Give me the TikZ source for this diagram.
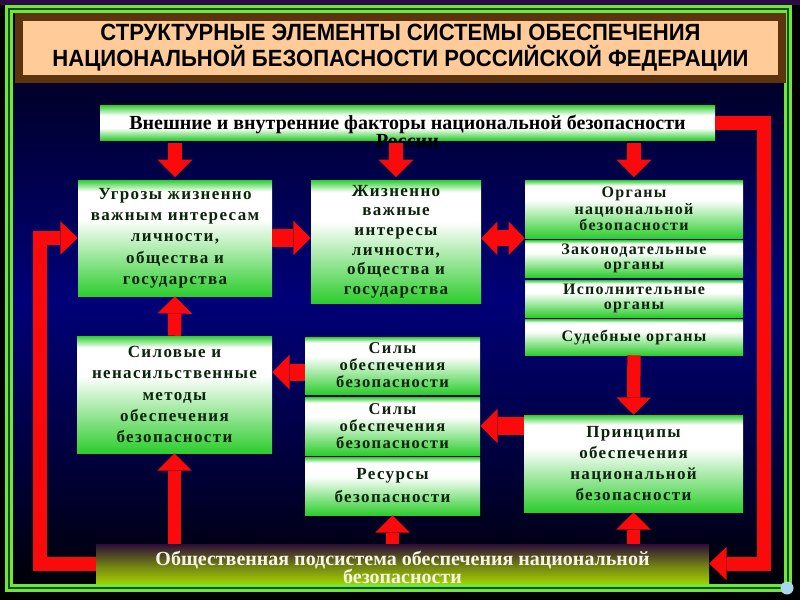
\documentclass[tikz,border=0pt]{standalone}
\usepackage{fontspec}
\usepackage{graphicx}
\setmainfont{Liberation Serif}
\newfontfamily\bx[LetterSpace=8]{Liberation Serif}
\newfontfamily\ttlfont{Liberation Sans}
\usetikzlibrary{arrows.meta,calc}
\definecolor{gG}{RGB}{45,205,45}
\definecolor{txtG}{RGB}{12,36,12}
\definecolor{arrRed}{RGB}{250,10,10}
\definecolor{peachT}{RGB}{255,204,153}
\definecolor{brownT}{RGB}{92,52,14}
\definecolor{frL}{RGB}{110,230,60}
\definecolor{frD}{RGB}{25,80,15}
\definecolor{bgTop}{RGB}{0,0,14}
\definecolor{bgUp}{RGB}{0,0,70}
\definecolor{bgMid}{RGB}{0,0,120}
\definecolor{bgLow}{RGB}{0,0,60}
\definecolor{bgBot}{RGB}{0,0,6}
\definecolor{purpT}{RGB}{45,10,70}
\definecolor{ybot}{RGB}{160,205,0}
\definecolor{ymid}{RGB}{115,130,20}
\definecolor{ytop}{RGB}{45,12,55}
\definecolor{iconC}{RGB}{170,215,235}
\definecolor{wTxt}{RGB}{245,245,230}
\pgfdeclareverticalshading{gboxsh}{100bp}{color(0bp)=(gG); color(25bp)=(gG); color(58bp)=(white); color(70bp)=(white); color(75bp)=(gG); color(100bp)=(gG)}
\pgfdeclareverticalshading{gbarsh}{100bp}{color(0bp)=(gG); color(25bp)=(gG); color(42bp)=(white); color(60bp)=(white); color(75bp)=(gG); color(100bp)=(gG)}
\pgfdeclareverticalshading{ybarsh}{100bp}{color(0bp)=(ybot); color(25bp)=(ybot); color(47bp)=(ymid); color(75bp)=(ytop); color(100bp)=(ytop)}
\pgfdeclareverticalshading{bgsh}{100bp}{color(0bp)=(bgBot); color(25bp)=(bgBot); color(36bp)=(bgLow); color(50bp)=(bgMid); color(62bp)=(bgUp); color(75bp)=(bgTop); color(100bp)=(bgTop)}
\tikzset{
  gb/.style={shade, shading=gboxsh, inner sep=0pt, align=center, text=txtG,
    font=\bx\bfseries\fontsize{12.75}{16}\selectfont},
  gbar/.style={shade, shading=gbarsh, inner sep=0pt},
  ybar/.style={shade, shading=ybarsh, inner sep=0pt},
  bartxt/.style={align=center, inner sep=0pt, font=\bfseries\fontsize{15}{13.5}\selectfont},
  ra/.style={draw=arrRed, line width=10pt,
    -{Triangle[width=26pt,length=13pt,line width=0pt]}},
  rda/.style={draw=arrRed, line width=12pt,
    {Triangle[width=25pt,length=12pt,line width=0pt]}-{Triangle[width=25pt,length=12pt,line width=0pt]}},
  rloop/.style={draw=arrRed, line width=10.5pt, line join=miter,
    -{Triangle[width=25pt,length=13pt,line width=0pt]}},
  titlebox/.style={draw=brownT, line width=6pt, fill=peachT, align=center,
    minimum width=572.25pt, minimum height=46.5pt, inner sep=0pt,
    font=\ttlfont\bfseries\fontsize{17.6}{19.5}\selectfont}
}
\begin{document}
\begin{tikzpicture}[x=0.75pt,y=-0.75pt]
\useasboundingbox (0,0) rectangle (800,600);
% background
\fill[black] (0,0) rectangle (800,600);
\fill[purpT] (0,0) rectangle (800,5);
\shade[shading=bgsh] (12,12) rectangle (786,586);
% green frame
\draw[frD, line width=5.25pt] (9,9) rectangle (788,588);
\draw[frL, line width=2pt] (6.5,6.5) rectangle (790.5,590.5);
\draw[frL, line width=2pt] (11.5,11.5) rectangle (785.5,585.5);
\fill[iconC] (787,588) circle (6.5);
% title
\node[titlebox] (title) at (400.5,48)
  {\scalebox{0.94}[1]{СТРУКТУРНЫЕ ЭЛЕМЕНТЫ СИСТЕМЫ ОБЕСПЕЧЕНИЯ}\\
   \scalebox{0.94}[1]{НАЦИОНАЛЬНОЙ БЕЗОПАСНОСТИ РОССИЙСКОЙ ФЕДЕРАЦИИ}};
% top bar
\node[gbar, minimum width=461.25pt, minimum height=26.25pt] (ext) at (407.5,122.5) {};
\node[bartxt, text=black] (extT) at (407.5,131)
  {Внешние и внутренние факторы национальной безопасности\\России};
% boxes
\node[gb, minimum width=145.5pt, minimum height=87pt] (ugr) at (175,238)
  {Угрозы жизненно\\важным интересам\\личности,\\общества и\\государства};
\node[gb, minimum width=127.5pt, minimum height=92.25pt,
  font=\bx\bfseries\fontsize{12.75}{14.75}\selectfont] (zhiz) at (396,241.5)
  {Жизненно\\важные\\интересы\\личности,\\общества и\\государства};
\node[gb, minimum width=163.5pt, minimum height=43.5pt,
  font=\bx\bfseries\fontsize{12}{12.4}\selectfont] (org) at (634,209)
  {Органы\\национальной\\безопасности};
\node[gb, minimum width=163.5pt, minimum height=27.75pt,
  font=\bx\bfseries\fontsize{12}{11.25}\selectfont] (zak) at (634,258.5)
  {Законодательные\\органы};
\node[gb, minimum width=163.5pt, minimum height=27.75pt,
  font=\bx\bfseries\fontsize{12}{11.25}\selectfont] (isp) at (634,298.5)
  {Исполнительные\\органы};
\node[gb, minimum width=163.5pt, minimum height=27pt,
  font=\bx\bfseries\fontsize{12}{12}\selectfont] (sud) at (634,337)
  {Судебные органы};
\node[gb, minimum width=146.25pt, minimum height=87.75pt] (sil) at (174.5,394.5)
  {Силовые и\\ненасильственные\\методы\\обеспечения\\безопасности};
\node[gb, minimum width=131.25pt, minimum height=42.75pt,
  font=\bx\bfseries\fontsize{12.4}{12.75}\selectfont] (sily1) at (392.5,365.5)
  {Силы\\обеспечения\\безопасности};
\node[gb, minimum width=131.25pt, minimum height=43.5pt,
  font=\bx\bfseries\fontsize{12.4}{12.75}\selectfont] (sily2) at (392.5,426)
  {Силы\\обеспечения\\безопасности};
\node[gb, minimum width=131.25pt, minimum height=43.5pt,
  font=\bx\bfseries\fontsize{12.75}{17.25}\selectfont] (res) at (392.5,486)
  {Ресурсы\\безопасности};
\node[gb, minimum width=164.25pt, minimum height=72.75pt,
  font=\bx\bfseries\fontsize{12.75}{15.75}\selectfont] (prin) at (633.5,463.5)
  {Принципы\\обеспечения\\национальной\\безопасности};
% bottom bar
\node[ybar, minimum width=459.75pt, minimum height=29.25pt] (obsch) at (402.5,563.5) {};
\node[bartxt, text=wTxt] (obschT) at (402.5,567)
  {Общественная подсистема обеспечения национальной\\безопасности};
% arrows
\draw[ra] ([yshift=-2pt]ugr.north |- ext.south) -- ([yshift=2pt]ugr.north);
\draw[ra] ([yshift=-2pt]zhiz.north |- ext.south) -- ([yshift=2pt]zhiz.north);
\draw[ra] ([yshift=-2pt]org.north |- ext.south) -- ([yshift=2pt]org.north);
\draw[ra, line width=13pt] (ugr.east) -- (zhiz.west |- ugr.east);
\draw[rda] (zhiz.east |- org.south) -- (org.south west);
\draw[ra] (sil.north) -- (ugr.south);
\draw[ra, line width=13pt] ([yshift=-5pt]sily1.west) -- ([yshift=-5pt]sil.east |- sily1.west);
\draw[ra] (sud.south) -- (prin.north);
\draw[ra, line width=13pt] (prin.west |- sily2.east) -- (sily2.east);
\draw[ra] (res.south |- obsch.north) -- (res.south);
\draw[ra] (prin.south |- obsch.north) -- (prin.south);
\draw[ra] (sil.south |- obsch.north) -- (sil.south);
% feedback loops
\coordinate (L) at (40,0);
\coordinate (R) at (764,0);
\draw[rloop] (obsch.west) -| (L |- ugr.west) -- (ugr.west);
\draw[rloop] (ext.east) -| (R |- obsch.east) -- (obsch.east);
\end{tikzpicture}
\end{document}
